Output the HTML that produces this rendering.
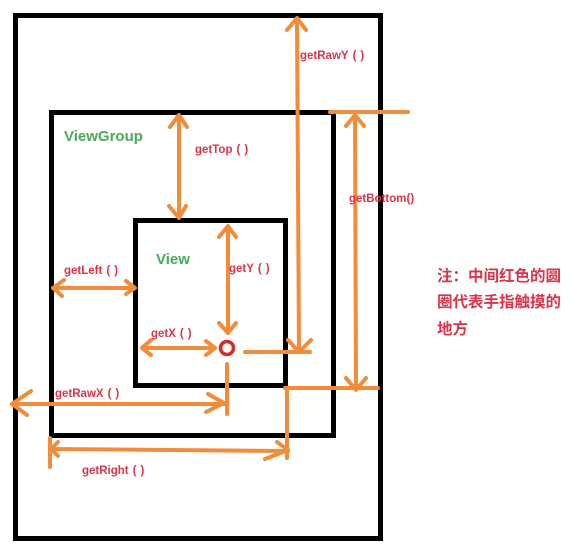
<!DOCTYPE html>
<html><head><meta charset="utf-8"><style>
html,body{margin:0;padding:0;background:#fff;width:571px;height:552px;overflow:hidden}
svg{display:block}
.r{font-family:"Liberation Sans","Noto Sans CJK SC",sans-serif;font-weight:bold;fill:#d9344a;font-size:11.5px}
.g{font-family:"Liberation Sans",sans-serif;font-weight:bold;fill:#4aa95a;font-size:15px}
.o{stroke:#f08c3a;stroke-width:4;fill:none;stroke-linecap:round;stroke-linejoin:round}
.b{stroke:#000;stroke-width:5;fill:none}
</style></head><body>
<svg width="571" height="552" viewBox="0 0 571 552">
<rect class="b" x="15.5" y="15.5" width="365" height="523"/>
<rect class="b" x="51.5" y="112.5" width="282" height="323"/>
<rect class="b" x="135.5" y="220.5" width="150" height="165"/>

<path class="o" d="M297 19 L299 350 M287 30 L297 18 L306 30 M288 340 L299 352 L311 340 M245 352 L310 352"/>
<path class="o" d="M330 112 L408 112 M355 116 L356 388 M346 126 L355 115 L364 126 M346 378 L356 390 L366 378 M285 388 L378 388"/>
<path class="o" d="M179 116 L179 217 M170 127 L179 115 L187 127 M169 206 L179 218 L186 206"/>
<path class="o" d="M228 227 L228 332 M219 237 L228 226 L236 237 M219 323 L228 333 L236 323"/>
<circle cx="227" cy="348" r="6.5" fill="none" stroke="#d52b2b" stroke-width="3.5"/>
<path class="o" d="M227 364 L227 414"/>
<path class="o" d="M53 288 L134 288 M64 280 L53 288 L62 296 M126 281 L135 288 L126 294"/>
<path class="o" d="M143 348 L214 348 M151 340 L142 348 L151 355 M206 341 L215 348 L206 355"/>
<path class="o" d="M12 404 L224 404 M31 391 L12 404 L27 415 M208 394 L224 403 L206 412"/>
<path class="o" d="M50 438 L50 467 M51 449 L288 451 M58 442 L51 449 L58 456 M277 442 L288 450 L265 459 M287 388 L287 458"/>

<text class="r" x="300" y="59">getRawY<tspan dx="4">(</tspan><tspan dx="4">)</tspan></text>
<text class="g" x="64" y="141">ViewGroup</text>
<text class="r" x="195" y="153">getTop<tspan dx="4">(</tspan><tspan dx="4">)</tspan></text>
<text class="r" x="349" y="202">getBottom()</text>
<text class="g" x="156" y="264">View</text>
<text class="r" x="229" y="272">getY<tspan dx="4">(</tspan><tspan dx="4">)</tspan></text>
<text class="r" x="64" y="274">getLeft<tspan dx="4">(</tspan><tspan dx="4">)</tspan></text>
<text class="r" x="151" y="337">getX<tspan dx="4">(</tspan><tspan dx="4">)</tspan></text>
<text class="r" x="55" y="397">getRawX<tspan dx="4">(</tspan><tspan dx="4">)</tspan></text>
<text class="r" x="82" y="474">getRight<tspan dx="4">(</tspan><tspan dx="4">)</tspan></text>

<text class="r" style="font-size:15.5px" x="437" y="281">注：中间红色的圆</text>
<text class="r" style="font-size:15.5px" x="437" y="307">圈代表手指触摸的</text>
<text class="r" style="font-size:15.5px" x="437" y="334">地方</text>
</svg>
</body></html>
